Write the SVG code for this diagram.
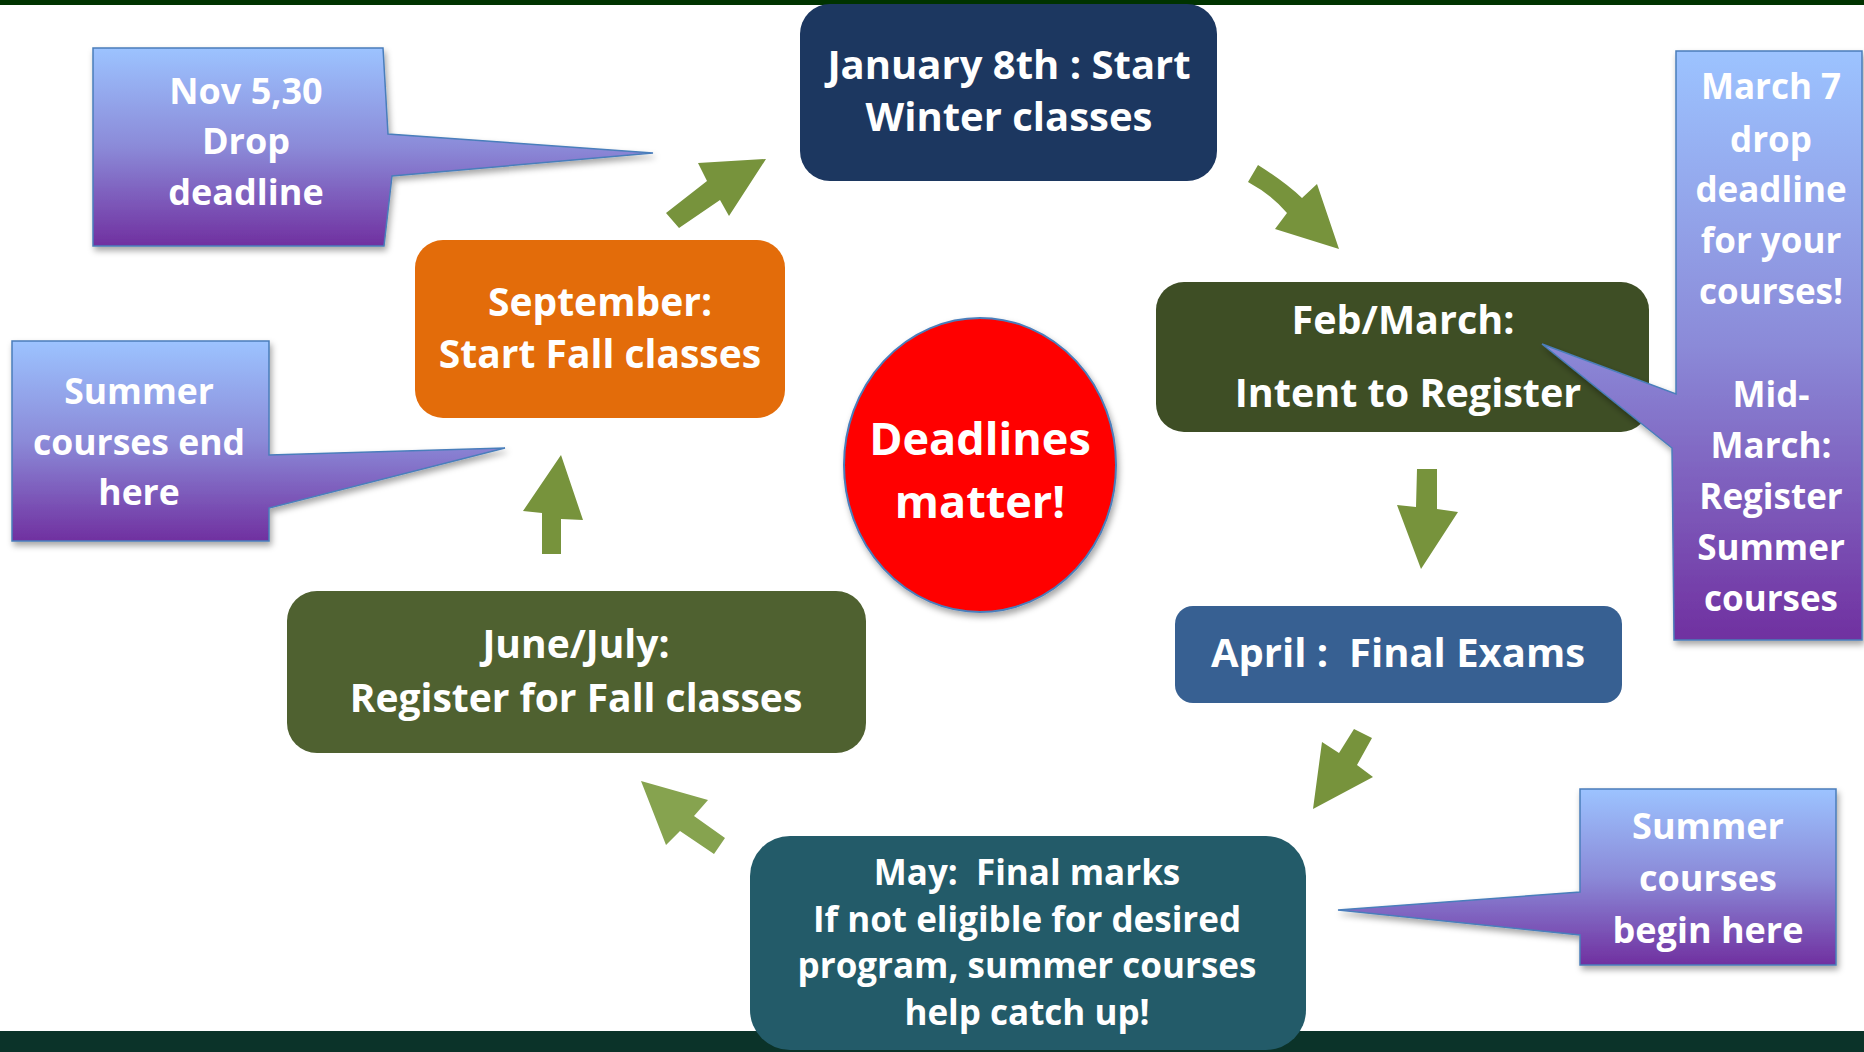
<svg xmlns="http://www.w3.org/2000/svg" width="1864" height="1052" viewBox="0 0 1864 1052">
  <defs>
    <linearGradient id="calloutGrad" x1="0" y1="0" x2="0" y2="1">
      <stop offset="0" stop-color="#9cc3ff"/>
      <stop offset="0.5" stop-color="#8b8ad8"/>
      <stop offset="1" stop-color="#7030a0"/>
    </linearGradient>
    <filter id="shadow" x="-10%" y="-10%" width="130%" height="130%">
      <feDropShadow dx="2" dy="4" stdDeviation="3" flood-color="#000000" flood-opacity="0.35"/>
    </filter>
    <style>
      .t { font-family: "Open Sans", "Noto Sans", "Liberation Sans", sans-serif; font-weight: bold; fill: #ffffff; text-anchor: middle; }
      .box { stroke: none; }
      .callout { fill: url(#calloutGrad); stroke: #4a7ebb; stroke-width: 1.5; filter: url(#shadow); }
      .arrow { fill: #77933c; stroke: none; }
      .arrowLight { fill: #86a34f; stroke: none; }
    </style>
  </defs>

  <rect x="0" y="0" width="1864" height="1052" fill="#ffffff"/>
  <!-- top and bottom bands -->
  <rect x="0" y="0" width="1864" height="5" fill="#003300"/>
  <rect x="0" y="1031" width="1864" height="21" fill="#0b3329"/>

  <!-- connectors (block arrows) -->
  <g id="connectors">
    <polygon class="arrow" points="766,159 698,163 707,181 666,213 679,228 720,200 729,216"/>
    <path class="arrow" d="M1258,165 Q1285,182 1302,198 L1317,184 L1339,249 L1275,229 L1287,213 Q1272,195 1248,182 Z"/>
    <polygon class="arrow" points="1417,469 1437,469 1437,509 1458,512 1421,569 1397,505 1416,507"/>
    <polygon class="arrow" points="1354,729 1372,738 1357,765 1373,777 1313,809 1322,742 1339,753"/>
    <polygon class="arrowLight" points="641,781 708,800 694,816 725,838 714,854 680,831 666,845"/>
    <polygon class="arrow" points="561,455 583,520 561,519 561,554 542,554 542,513 523,511"/>
  </g>

  <!-- callouts -->
  <g id="callout-nov">
    <path class="callout" d="M93,48 L383,48 L388,134 L653,153 L392,176 L384,246 L93,246 Z"/>
    <text class="t" font-size="36" x="246" y="104">Nov 5,30</text>
    <text class="t" font-size="36" x="246" y="154">Drop</text>
    <text class="t" font-size="36" x="246" y="205">deadline</text>
  </g>

  <g id="callout-summer-end">
    <path class="callout" d="M12,341 L269,341 L269,455 L505,448 L269,508 L269,541 L12,541 Z"/>
    <text class="t" font-size="35.5" x="139" y="404">Summer</text>
    <text class="t" font-size="35.5" x="139" y="455">courses end</text>
    <text class="t" font-size="35.5" x="139" y="505">here</text>
  </g>

  <g id="callout-summer-begin">
    <path class="callout" d="M1580,789 L1836,789 L1836,965 L1580,965 L1580,935 L1338,910 L1580,892 Z"/>
    <text class="t" font-size="36" x="1708" y="839">Summer</text>
    <text class="t" font-size="36" x="1708" y="891">courses</text>
    <text class="t" font-size="36" x="1708" y="943">begin here</text>
  </g>

  <!-- nodes -->
  <g id="node-january">
    <rect class="box" x="800" y="4" width="417" height="177" rx="30" fill="#1c3760"/>
    <text class="t" font-size="40" x="1009" y="79">January 8th : Start</text>
    <text class="t" font-size="40" x="1009" y="131">Winter classes</text>
  </g>

  <g id="node-febmarch">
    <rect class="box" x="1156" y="282" width="493" height="150" rx="28" fill="#3e4e25"/>
    <text class="t" font-size="39.5" x="1403" y="334">Feb/March:</text>
    <text class="t" font-size="39.5" x="1408" y="407">Intent to Register</text>
  </g>

  <g id="callout-march">
    <path class="callout" d="M1676,51 L1862,51 L1862,640 L1674,640 L1672,448 L1542,344 L1676,394 Z"/>
    <text class="t" font-size="35" x="1771" y="99">March 7</text>
    <text class="t" font-size="35" x="1771" y="152">drop</text>
    <text class="t" font-size="35" x="1771" y="202">deadline</text>
    <text class="t" font-size="35" x="1771" y="253">for your</text>
    <text class="t" font-size="35" x="1771" y="304">courses!</text>
    <text class="t" font-size="35" x="1771" y="407">Mid-</text>
    <text class="t" font-size="35" x="1771" y="458">March:</text>
    <text class="t" font-size="35" x="1771" y="509">Register</text>
    <text class="t" font-size="35" x="1771" y="560">Summer</text>
    <text class="t" font-size="35" x="1771" y="611">courses</text>
  </g>

  <g id="node-april">
    <rect class="box" x="1175" y="606" width="447" height="97" rx="18" fill="#376092"/>
    <text class="t" font-size="40" x="1398" y="667" xml:space="preserve">April :  Final Exams</text>
  </g>

  <g id="node-may">
    <rect class="box" x="750" y="836" width="556" height="214" rx="40" fill="#235b69" stroke="#ffffff" stroke-width="3"/>
    <text class="t" font-size="35" x="1027" y="885" xml:space="preserve">May:  Final marks</text>
    <text class="t" font-size="35" x="1027" y="932">If not eligible for desired</text>
    <text class="t" font-size="35" x="1027" y="978">program, summer courses</text>
    <text class="t" font-size="35" x="1027" y="1025">help catch up!</text>
  </g>

  <g id="node-junejuly">
    <rect class="box" x="287" y="591" width="579" height="162" rx="30" fill="#4f6130"/>
    <text class="t" font-size="39" x="576" y="658">June/July:</text>
    <text class="t" font-size="39" x="576" y="712">Register for Fall classes</text>
  </g>

  <g id="node-september">
    <rect class="box" x="415" y="240" width="370" height="178" rx="28" fill="#e36c0a"/>
    <text class="t" font-size="39" x="600" y="316">September:</text>
    <text class="t" font-size="39" x="600" y="368">Start Fall classes</text>
  </g>

  <g id="node-deadlines">
    <ellipse cx="980" cy="465" rx="136" ry="147" fill="#ff0000" stroke="#4a7ebb" stroke-width="2" filter="url(#shadow)"/>
    <text class="t" font-size="45" x="980" y="455">Deadlines</text>
    <text class="t" font-size="45" x="980" y="518">matter!</text>
  </g>
</svg>
